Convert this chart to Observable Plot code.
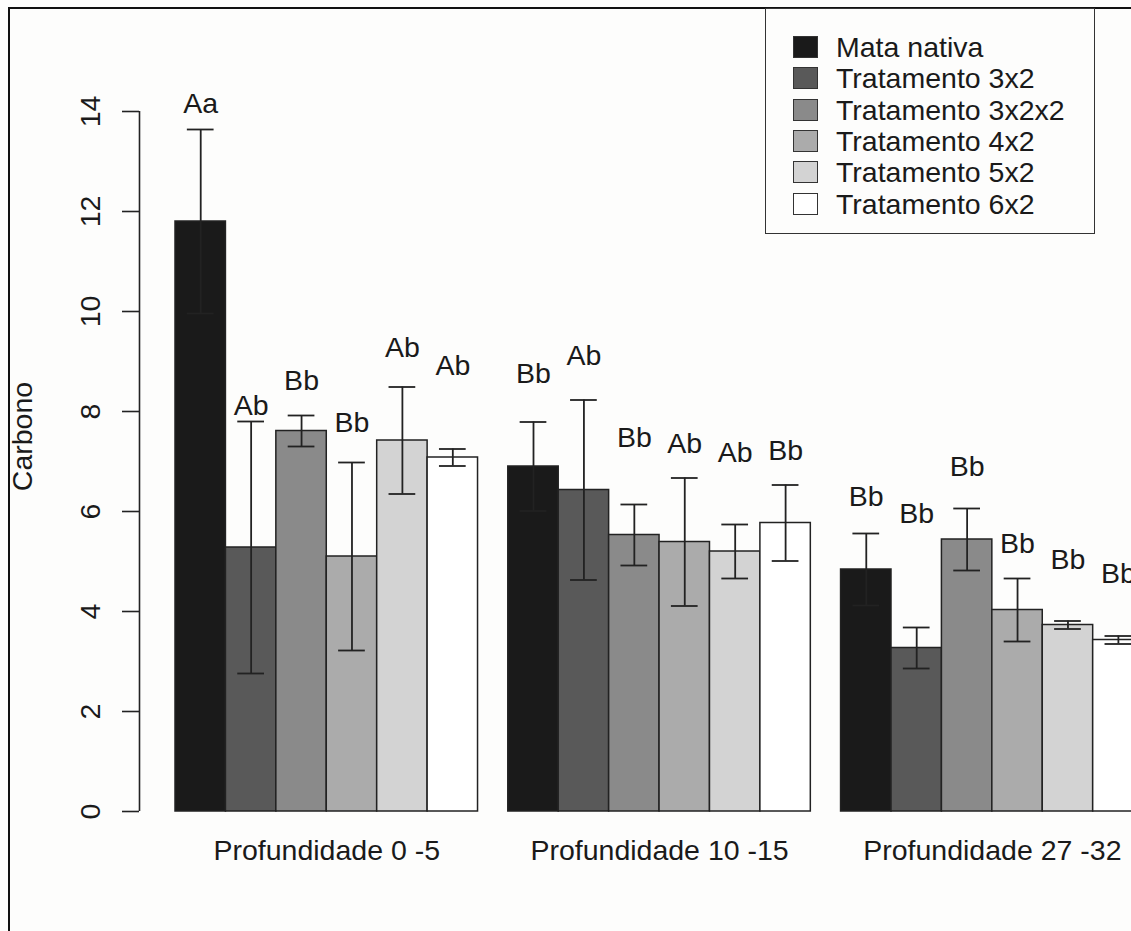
<!DOCTYPE html>
<html>
<head>
<meta charset="utf-8">
<script src="https://cdn.jsdelivr.net/npm/d3@7"></script>
<script src="https://cdn.jsdelivr.net/npm/@observablehq/plot@0.6"></script>
<style>
  html, body { margin: 0; padding: 0; background: #fdfdfc; overflow: hidden; }
  #wrap { position: relative; width: 1131px; height: 931px; overflow: hidden; font-family: "Liberation Sans", Arial, sans-serif; color: #1a1a1a; }
  #frame { position: absolute; left: 8px; top: 7px; width: 2000px; height: 2000px; border-left: 2px solid #111; border-top: 2px solid #111; pointer-events: none; }
  #chart { position: absolute; left: 0; top: 0; }
  #legend { position: absolute; left: 765px; top: 8px; width: 330px; height: 226px; border: 1.5px solid #333; background: #fdfdfc; box-sizing: border-box; }
  .lrow { position: absolute; left: 0; height: 30px; display: flex; align-items: center; }
  .sw { width: 25px; height: 22px; margin-left: 27px; margin-right: 18px; box-sizing: border-box; border: 1px solid #333; }
  .lt { font-size: 28.5px; line-height: 30px; white-space: nowrap; }
</style>
</head>
<body>
<div id="wrap">
  <div id="chart"></div>
  <div id="frame"></div>
  <div id="legend"></div>
</div>
<script>
// ---- data ----
const groups = ["Profundidade 0 -5", "Profundidade 10 -15", "Profundidade 27 -32"];
const treatments = ["Mata nativa", "Tratamento 3x2", "Tratamento 3x2x2", "Tratamento 4x2", "Tratamento 5x2", "Tratamento 6x2"];
const colors = ["#1a1a1a", "#595959", "#8a8a8a", "#ababab", "#d3d3d3", "#ffffff"];

const means0_5   = [11.80, 5.28, 7.61, 5.10, 7.42, 7.08];
const means10_15 = [6.90, 6.43, 5.53, 5.39, 5.20, 5.77];
const means27_32 = [4.84, 3.27, 5.44, 4.03, 3.73, 3.43];

const errs0_5   = [1.84, 2.52, 0.31, 1.88, 1.07, 0.17];
const errs10_15 = [0.89, 1.80, 0.61, 1.28, 0.54, 0.76];
const errs27_32 = [0.72, 0.41, 0.62, 0.63, 0.08, 0.08];

const letters0_5   = ["Aa", "Ab", "Bb", "Bb", "Ab", "Ab"];
const letters10_15 = ["Bb", "Ab", "Bb", "Ab", "Ab", "Bb"];
const letters27_32 = ["Bb", "Bb", "Bb", "Bb", "Bb", "Bb"];

const letterY0_5   = [14.16, 8.12, 8.62, 7.78, 9.28, 8.92];
const letterY10_15 = [8.75, 9.12, 7.47, 7.35, 7.17, 7.22];
const letterY27_32 = [6.29, 5.95, 6.89, 5.35, 5.03, 4.75];

const yTicks = [0, 2, 4, 6, 8, 10, 12, 14];
const yTitle = "Carbono";

// ---- layout (R barplot style: bars width 1, gap between groups) ----
const groupGap = 0.6;
const nT = treatments.length;
const groupStep = nT + groupGap;
const capHalf = 0.265;
const yTitleCenter = 7.5;
const fs = 28.5;

const allMeans = [means0_5, means10_15, means27_32];
const allErrs = [errs0_5, errs10_15, errs27_32];
const allLetters = [letters0_5, letters10_15, letters27_32];
const allLetterY = [letterY0_5, letterY10_15, letterY27_32];

const rows = [];
groups.forEach((g, gi) => {
  treatments.forEach((t, ti) => {
    const left = gi * groupStep + ti;
    rows.push({
      group: g, treatment: t,
      x1: left, x2: left + 1, cx: left + 0.5,
      mean: allMeans[gi][ti], err: allErrs[gi][ti],
      letter: allLetters[gi][ti], ly: allLetterY[gi][ti]
    });
  });
});
const groupRows = groups.map((g, gi) => ({label: g, cx: gi * groupStep + nT / 2}));

const xMin = -0.714, xMax = 18.96;
const ink = "#1a1a1a";

const chart = Plot.plot({
  width: 1131,
  height: 931,
  marginLeft: 139,
  marginRight: 0,
  marginTop: 111,
  marginBottom: 120,
  style: {fontFamily: '"Liberation Sans", Arial, sans-serif', fontSize: fs + "px", background: "transparent", color: ink},
  x: {domain: [xMin, xMax], axis: null},
  y: {domain: [0, 14], axis: null},
  color: {domain: treatments, range: colors},
  marks: [
    Plot.rect(rows, {x1: "x1", x2: "x2", y1: 0, y2: "mean", fill: "treatment", stroke: "#222", strokeWidth: 1.5}),
    Plot.ruleX(rows, {x: "cx", y1: d => d.mean - d.err, y2: d => d.mean + d.err, stroke: "#222", strokeWidth: 1.8}),
    Plot.ruleY(rows, {y: d => d.mean + d.err, x1: d => d.cx - capHalf, x2: d => d.cx + capHalf, stroke: "#222", strokeWidth: 1.8}),
    Plot.ruleY(rows, {y: d => d.mean - d.err, x1: d => d.cx - capHalf, x2: d => d.cx + capHalf, stroke: "#222", strokeWidth: 1.8}),
    Plot.text(rows, {x: "cx", y: "ly", text: "letter", fontSize: fs, fill: ink}),
    // y axis (R style)
    Plot.ruleX([xMin], {x: d => d, y1: 0, y2: 14, stroke: "#222", strokeWidth: 1.6}),
    Plot.axisY({ticks: yTicks, tickSize: 17, tickPadding: 23, tickRotate: -90, label: null, stroke: "#222", strokeWidth: 1.6, fontSize: fs, fill: ink}),
    Plot.text([yTitle], {x: xMin, y: yTitleCenter, text: d => d, dx: -117, rotate: -90, fontSize: fs, fill: ink}),
    // group labels
    Plot.text(groupRows, {x: "cx", text: "label", frameAnchor: "bottom", dy: 28, lineAnchor: "top", fontSize: fs, fill: ink})
  ]
});
document.getElementById("chart").appendChild(chart);

// ---- legend ----
const legend = document.getElementById("legend");
treatments.forEach((t, i) => {
  const row = document.createElement("div");
  row.className = "lrow";
  row.style.top = (23 + i * 31.3) + "px";
  const sw = document.createElement("div");
  sw.className = "sw";
  sw.style.background = colors[i];
  const tx = document.createElement("span");
  tx.className = "lt";
  tx.textContent = t;
  row.appendChild(sw);
  row.appendChild(tx);
  legend.appendChild(row);
});
</script>
</body>
</html>
